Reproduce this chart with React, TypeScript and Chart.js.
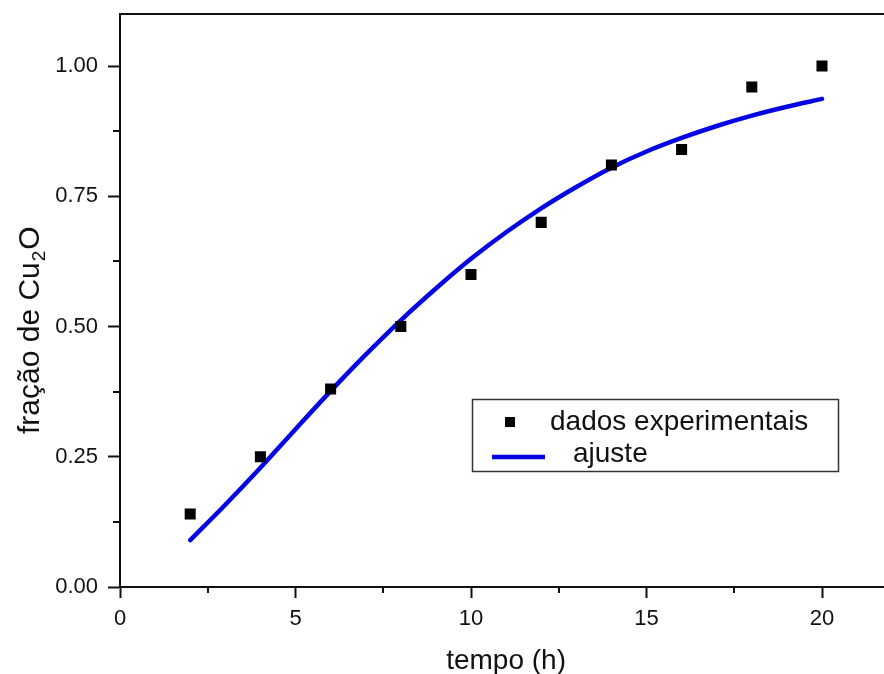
import { useEffect, useRef } from 'react';
import { Chart, registerables } from 'chart.js';

Chart.register(...registerables);

// Experimental points: time (h) vs Cu2O fraction
const hours = [2, 4, 6, 8, 10, 12, 14, 16, 18, 20];
const fraction = [0.14, 0.25, 0.38, 0.5, 0.6, 0.7, 0.81, 0.84, 0.96, 1.0];

// Fitted curve, sampled every hour
const fitHours = [2, 3, 4, 5, 6, 7, 8, 9, 10, 11, 12, 13, 14, 15, 16, 17, 18, 19, 20];
const fitFraction = [
  0.09, 0.158, 0.229, 0.303, 0.376, 0.446, 0.512, 0.573, 0.63, 0.681, 0.727, 0.768, 0.805, 0.836,
  0.862, 0.885, 0.905, 0.922, 0.937,
];

const xMajor = [0, 5, 10, 15, 20];
const yMajor = [0, 0.25, 0.5, 0.75, 1.0];
const xMinor = [2.5, 7.5, 12.5, 17.5];
const yMinor = [0.125, 0.375, 0.625, 0.875];

const seriesLabels = ['dados experimentais', 'ajuste'];
const xTitle = 'tempo (h)';
const yTitleMain = 'fração de Cu';
const yTitleSub = '2';
const yTitleEnd = 'O';

const FONT = '"Liberation Sans", Arial, sans-serif';
const INK = '#111111';
const BLUE = 'rgb(5, 5, 228)';

const framePlugin = {
  id: 'frame',
  afterDraw(chart: any) {
    const { ctx, chartArea, scales } = chart;
    const xs = scales.x;
    const ys = scales.y;
    ctx.save();

    // top border of the frame
    ctx.strokeStyle = INK;
    ctx.lineWidth = 2;
    ctx.beginPath();
    ctx.moveTo(chartArea.left - 1, chartArea.top);
    ctx.lineTo(chartArea.right, chartArea.top);
    ctx.stroke();

    // minor ticks
    ctx.beginPath();
    for (const v of yMinor) {
      const py = Math.round(ys.getPixelForValue(v));
      ctx.moveTo(chartArea.left, py);
      ctx.lineTo(chartArea.left - 7, py);
    }
    for (const v of xMinor) {
      const px = Math.round(xs.getPixelForValue(v));
      ctx.moveTo(px, chartArea.bottom);
      ctx.lineTo(px, chartArea.bottom + 6);
    }
    ctx.stroke();

    // axis titles
    ctx.fillStyle = INK;
    ctx.font = `28px ${FONT}`;
    ctx.textAlign = 'center';
    ctx.textBaseline = 'alphabetic';
    ctx.fillText(xTitle, (chartArea.left + chartArea.right) / 2, 669);

    ctx.save();
    ctx.translate(39, 434);
    ctx.rotate(-Math.PI / 2);
    ctx.textAlign = 'left';
    ctx.font = `30px ${FONT}`;
    ctx.fillText(yTitleMain, 0, 0);
    let off = ctx.measureText(yTitleMain).width + 1;
    ctx.font = `19px ${FONT}`;
    ctx.fillText(yTitleSub, off, 6);
    off += ctx.measureText(yTitleSub).width + 1;
    ctx.font = `30px ${FONT}`;
    ctx.fillText(yTitleEnd, off, 0);
    ctx.restore();

    // legend
    const ds = chart.data.datasets;
    ctx.lineWidth = 1.5;
    ctx.strokeStyle = '#333333';
    ctx.strokeRect(472.5, 399.5, 366, 72);
    ctx.fillStyle = '#000000';
    ctx.fillRect(505, 417, 10, 10);
    ctx.strokeStyle = BLUE;
    ctx.lineWidth = 4.5;
    ctx.beginPath();
    ctx.moveTo(492, 457);
    ctx.lineTo(545, 457);
    ctx.stroke();
    ctx.fillStyle = INK;
    ctx.font = `28px ${FONT}`;
    ctx.textAlign = 'left';
    ctx.fillText(ds[0].label, 550, 430);
    ctx.fillText(ds[1].label, 573, 462);

    ctx.restore();
  },
};

export default function App() {
  const canvasRef = useRef<HTMLCanvasElement | null>(null);

  useEffect(() => {
    const canvas = canvasRef.current;
    if (!canvas) return;
    const chart = new Chart(canvas, {
      type: 'scatter',
      data: {
        datasets: [
          {
            label: seriesLabels[0],
            data: hours.map((h, i) => ({ x: h, y: fraction[i] })),
            pointStyle: 'rect',
            pointRadius: 7.8,
            pointBackgroundColor: '#000000',
            pointBorderWidth: 0,
            showLine: false,
          },
          {
            label: seriesLabels[1],
            type: 'line',
            data: fitHours.map((h, i) => ({ x: h, y: fitFraction[i] })),
            borderColor: BLUE,
            borderWidth: 4.5,
            borderCapStyle: 'round',
            pointRadius: 0,
            cubicInterpolationMode: 'monotone',
            fill: false,
          },
        ],
      },
      options: {
        animation: false,
        responsive: false,
        events: [],
        layout: { padding: { left: 0, top: 14, right: 7, bottom: 0 } },
        plugins: { legend: { display: false }, tooltip: { enabled: false } },
        scales: {
          x: {
            type: 'linear',
            min: 0,
            max: 22,
            afterFit: (s: any) => {
              s.height = 87;
              s.paddingLeft = 0;
              s.paddingRight = 0;
            },
            afterBuildTicks: (s: any) => {
              s.ticks = xMajor.map((v) => ({ value: v }));
            },
            ticks: {
              autoSkip: false,
              maxRotation: 0,
              padding: 8,
              color: INK,
              font: { family: FONT, size: 22 },
              callback: (v: any) => String(v),
            },
            grid: {
              drawOnChartArea: false,
              drawTicks: true,
              tickLength: 11,
              tickWidth: 2,
              tickColor: INK,
            },
            border: { display: true, color: INK, width: 2 },
          },
          y: {
            type: 'linear',
            min: 0,
            max: 1.1,
            afterFit: (s: any) => {
              s.width = 120;
              s.paddingTop = 0;
              s.paddingBottom = 0;
            },
            afterBuildTicks: (s: any) => {
              s.ticks = yMajor.map((v) => ({ value: v }));
            },
            ticks: {
              autoSkip: false,
              padding: 10,
              color: INK,
              font: { family: FONT, size: 22 },
              callback: (v: any) => Number(v).toFixed(2),
            },
            grid: {
              drawOnChartArea: false,
              drawTicks: true,
              tickLength: 12,
              tickWidth: 2,
              tickColor: INK,
            },
            border: { display: true, color: INK, width: 2 },
          },
        },
      },
      plugins: [framePlugin],
    });
    return () => chart.destroy();
  }, []);

  return (
    <div
      style={{
        position: 'fixed',
        left: 0,
        top: 0,
        width: 884,
        height: 674,
        overflow: 'hidden',
        background: '#ffffff',
      }}
    >
      <canvas ref={canvasRef} width={900} height={674} style={{ width: 900, height: 674, display: 'block' }} />
    </div>
  );
}
